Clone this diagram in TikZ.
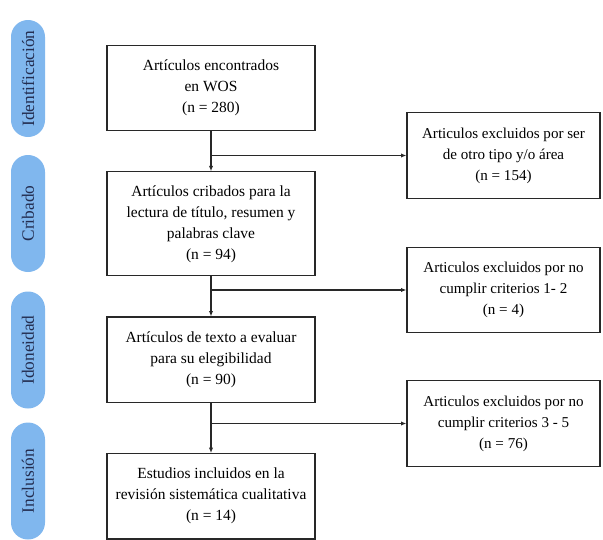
\documentclass[tikz,border=0pt]{standalone}
\usepackage{fontspec}
\setmainfont{Liberation Serif}
\usetikzlibrary{arrows.meta,positioning}
\definecolor{faseBlue}{RGB}{128, 183, 238}
\definecolor{faseText}{RGB}{35, 45, 80}
\definecolor{lineGray}{RGB}{40, 40, 40}

\begin{document}
\begin{tikzpicture}[
  x=0.75pt,y=-0.75pt,
  fase/.style={
    fill=faseBlue,
    rounded corners=12.7pt,
    rotate=90,
    minimum width=87.75pt,
    minimum height=25.5pt,
    text=faseText,
    font=\fontsize{13}{14}\selectfont
  },
  flowbox/.style={
    draw=lineGray,
    line width=0.9pt,
    minimum width=156pt,
    minimum height=64pt,
    align=center,
    font=\fontsize{11.6}{15.75}\selectfont
  },
  excludebox/.style={
    draw=lineGray,
    line width=0.9pt,
    minimum width=144.75pt,
    minimum height=64pt,
    align=center,
    font=\fontsize{11.3}{15.75}\selectfont
  },
  arrow/.style={-{Latex[length=4pt,width=3.2pt]},line width=0.9pt,lineGray}
]
  \useasboundingbox (0,0) rectangle (603,539);
  % fases
  \node[fase] (identificacion) at (28,78.5) {Identificación};
  \node[fase] (cribado) at (28,213.5) {Cribado};
  \node[fase] (idoneidad) at (28,350) {Idoneidad};
  \node[fase] (inclusion) at (28,481) {Inclusión};
  % columna principal
  \node[flowbox] (encontrados) at (211,88)
    {Artículos encontrados\\en WOS\\(n = 280)};
  \node[flowbox,minimum height=78pt,below=30pt of encontrados] (cribados)
    {Artículos cribados para la\\lectura de título, resumen y\\palabras clave\\(n = 94)};
  \node[flowbox,below=30pt of cribados] (evaluar)
    {Artículos de texto a evaluar\\para su elegibilidad\\(n = 90)};
  \node[flowbox,below=37.5pt of evaluar] (incluidos)
    {Estudios incluidos en la\\revisión sistemática cualitativa\\(n = 14)};
  % excluidos
  \node[excludebox] (excl1) at (503.5,155.5)
    {Articulos excluidos por ser\\de otro tipo y/o área\\(n = 154)};
  \node[excludebox] (excl2) at (503.5,290)
    {Articulos excluidos por no\\cumplir criterios 1- 2\\(n = 4)};
  \node[excludebox] (excl3) at (503.5,423.5)
    {Articulos excluidos por no\\cumplir criterios 3 - 5\\(n = 76)};
  % flechas
  \draw[arrow] (encontrados) -- (cribados);
  \draw[arrow] (cribados) -- (evaluar);
  \draw[arrow] (evaluar) -- (incluidos);
  \coordinate (rama1) at (encontrados.south |- excl1.west);
  \coordinate (rama2) at (cribados.south |- excl2.west);
  \coordinate (rama3) at (evaluar.south |- excl3.west);
  \draw[arrow] (rama1) -- (excl1);
  \draw[arrow] (rama2) -- (excl2);
  \draw[arrow] (rama3) -- (excl3);
\end{tikzpicture}
\end{document}
